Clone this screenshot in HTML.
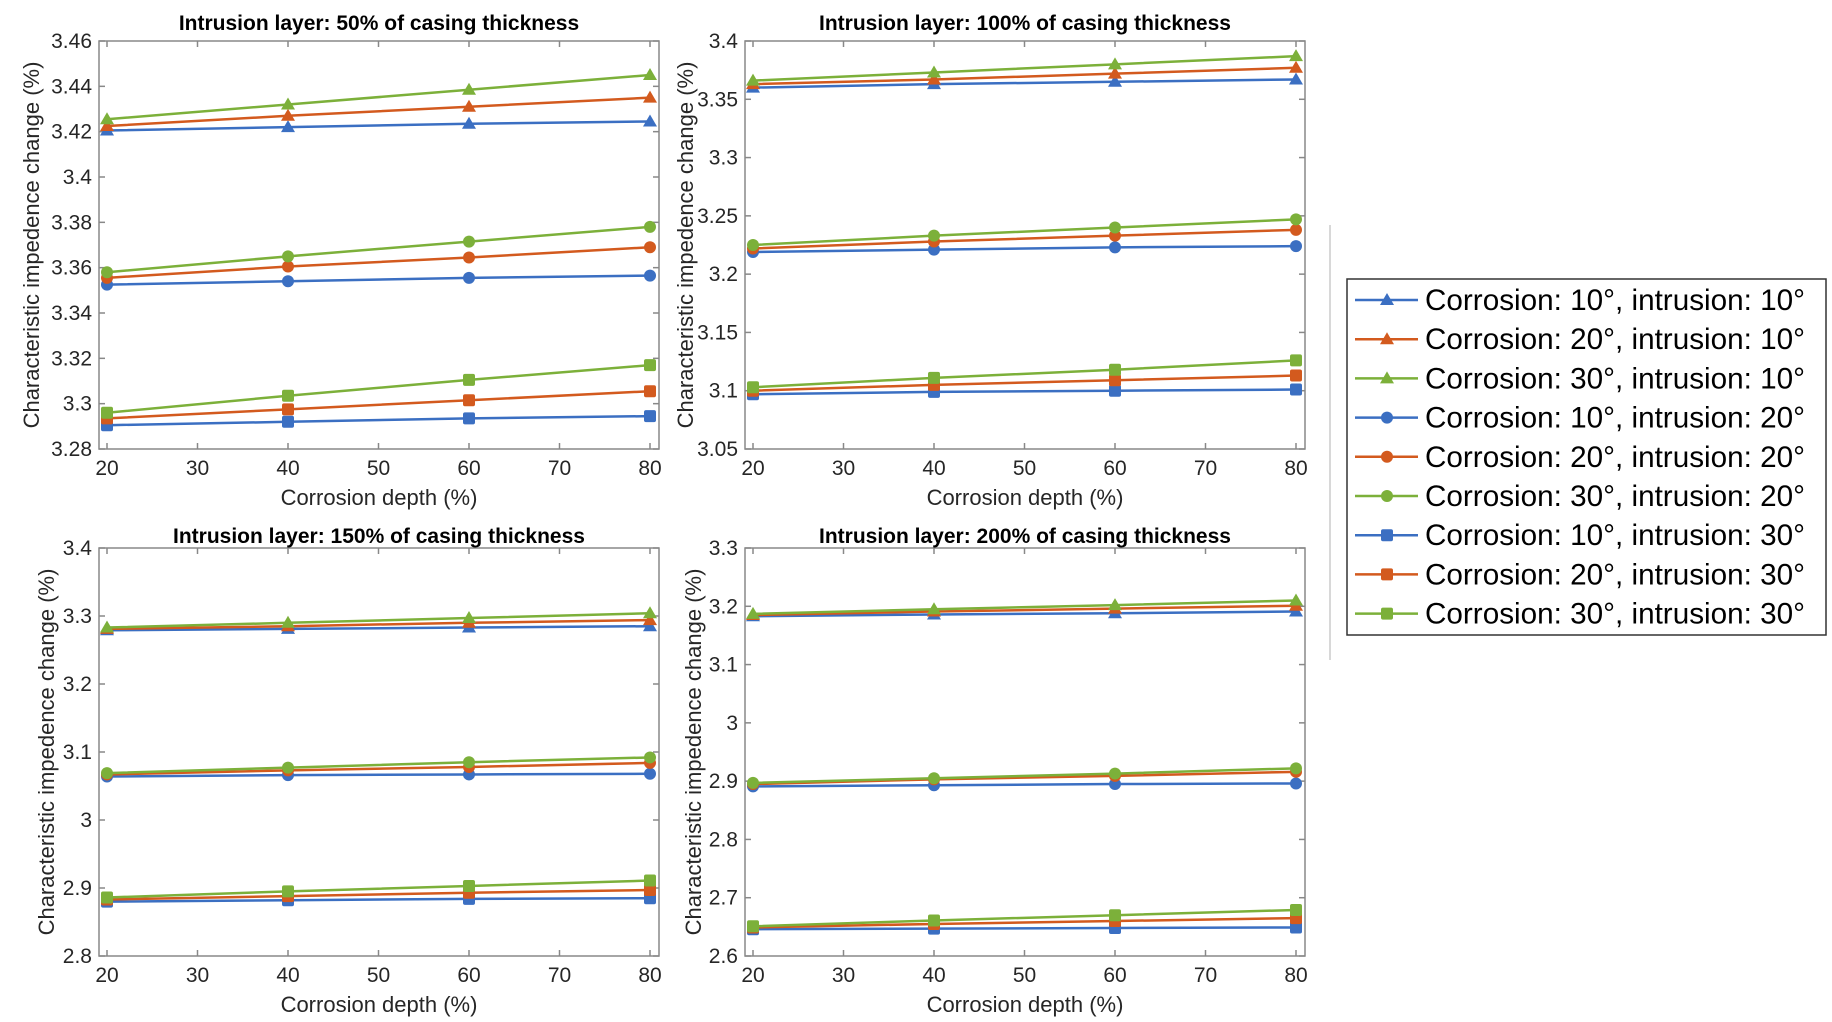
<!DOCTYPE html>
<html><head><meta charset="utf-8"><style>
body{margin:0;background:#fff;}
svg{display:block;font-family:"Liberation Sans",Arial,sans-serif;}
</style></head><body>
<svg id="fig" width="1832" height="1022" viewBox="0 0 1832 1022" xmlns="http://www.w3.org/2000/svg">
<line x1="1330" y1="225" x2="1330" y2="660" stroke="#ccc" stroke-width="1.5"/>
</svg>
<script>
const xCats=[20,40,60,80];
const xTicks=[20,30,40,50,60,70,80];
const seriesNames=["Corrosion: 10°, intrusion: 10°","Corrosion: 20°, intrusion: 10°","Corrosion: 30°, intrusion: 10°","Corrosion: 10°, intrusion: 20°","Corrosion: 20°, intrusion: 20°","Corrosion: 30°, intrusion: 20°","Corrosion: 10°, intrusion: 30°","Corrosion: 20°, intrusion: 30°","Corrosion: 30°, intrusion: 30°"];
const titles=["Intrusion layer: 50% of casing thickness","Intrusion layer: 100% of casing thickness","Intrusion layer: 150% of casing thickness","Intrusion layer: 200% of casing thickness"];
const yTicks1=["3.28","3.3","3.32","3.34","3.36","3.38","3.4","3.42","3.44","3.46"];
const yTicks2=["3.05","3.1","3.15","3.2","3.25","3.3","3.35","3.4"];
const yTicks3=["2.8","2.9","3","3.1","3.2","3.3","3.4"];
const yTicks4=["2.6","2.7","2.8","2.9","3","3.1","3.2","3.3"];
const p1=[[3.4205,3.422,3.4235,3.4245],[3.4225,3.427,3.431,3.435],[3.4255,3.432,3.4385,3.445],[3.3525,3.354,3.3555,3.3565],[3.3555,3.3605,3.3645,3.369],[3.358,3.365,3.3715,3.378],[3.2905,3.292,3.2935,3.2945],[3.2935,3.2975,3.3015,3.3055],[3.296,3.3035,3.3105,3.317]];
const p2=[[3.360,3.363,3.365,3.367],[3.363,3.367,3.372,3.377],[3.366,3.373,3.380,3.387],[3.219,3.221,3.223,3.224],[3.222,3.228,3.233,3.238],[3.225,3.233,3.240,3.247],[3.097,3.099,3.100,3.101],[3.100,3.105,3.109,3.113],[3.103,3.111,3.118,3.126]];
const p3=[[3.279,3.281,3.283,3.285],[3.281,3.285,3.290,3.294],[3.283,3.290,3.297,3.304],[3.064,3.066,3.067,3.068],[3.067,3.073,3.078,3.084],[3.069,3.077,3.085,3.092],[2.880,2.882,2.884,2.885],[2.883,2.888,2.893,2.897],[2.886,2.895,2.903,2.911]];
const p4=[[3.183,3.186,3.188,3.191],[3.185,3.191,3.196,3.201],[3.187,3.195,3.202,3.210],[2.891,2.893,2.895,2.896],[2.895,2.903,2.909,2.916],[2.897,2.905,2.913,2.922],[2.646,2.647,2.648,2.649],[2.649,2.655,2.660,2.665],[2.651,2.661,2.670,2.679]];
const colors=["#3b6fc2","#d35a1e","#7cb03a"];
const svg=document.getElementById('fig');
const NS="http://www.w3.org/2000/svg";
function mk(tag,attrs,parent){const e=document.createElementNS(NS,tag);for(const k in attrs)e.setAttribute(k,attrs[k]);(parent||svg).appendChild(e);return e;}
function marker(g,shape,x,y,c){
  let m;
  if(shape===0){m=mk('polygon',{points:`${x},${y-7} ${x-7},${y+5} ${x+7},${y+5}`,fill:c},g);}
  else if(shape===1){m=mk('circle',{cx:x,cy:y,r:6,fill:c},g);}
  else{m=mk('rect',{x:x-6,y:y-6,width:12,height:12,rx:2,fill:c},g);}
  return m;
}
const panels=[
 {L:99,T:41,R:659,B:449,ticks:yTicks1,data:p1,ylx:32,tty:22},
 {L:745,T:41,R:1305,B:449,ticks:yTicks2,data:p2,ylx:686,tty:22},
 {L:99,T:548,R:659,B:956,ticks:yTicks3,data:p3,ylx:47,tty:535},
 {L:745,T:548,R:1305,B:956,ticks:yTicks4,data:p4,ylx:694,tty:535}];
panels.forEach((P,pi)=>{
  const g=mk('g',{});
  
  
  const ymin=parseFloat(P.ticks[0]),ymax=parseFloat(P.ticks[P.ticks.length-1]);
  const x0=P.L+8,x1=P.R-9;
  const sx=v=>x0+(v-20)/60*(x1-x0);
  const sy=v=>P.B-(v-ymin)/(ymax-ymin)*(P.B-P.T);
  const box=mk('rect',{x:P.L,y:P.T,width:P.R-P.L,height:P.B-P.T,fill:'none',stroke:'#888','stroke-width':1.5},g);
  
  
  xTicks.forEach(t=>{
    const x=sx(t);
    mk('line',{x1:x,y1:P.B,x2:x,y2:P.B-6,stroke:'#888','stroke-width':1.5},g);
    mk('line',{x1:x,y1:P.T,x2:x,y2:P.T+6,stroke:'#888','stroke-width':1.5},g);
    const tx=mk('text',{x:x,y:P.B+26,'text-anchor':'middle','font-size':21,fill:'#262626'},g);
    tx.textContent=t;
    
    
  });
  P.ticks.forEach(t=>{
    const y=sy(parseFloat(t));
    mk('line',{x1:P.L,y1:y,x2:P.L+6,y2:y,stroke:'#888','stroke-width':1.5},g);
    mk('line',{x1:P.R,y1:y,x2:P.R-6,y2:y,stroke:'#888','stroke-width':1.5},g);
    const tx=mk('text',{x:P.L-7,y:y+7,'text-anchor':'end','font-size':21,fill:'#262626'},g);
    tx.textContent=t;
    
    
  });
  const tt=mk('text',{x:(P.L+P.R)/2,y:P.tty+8,'text-anchor':'middle','font-size':21,'font-weight':'bold',fill:'#000'},g);
  tt.textContent=titles[pi];
  
  
  const xl=mk('text',{x:(P.L+P.R)/2,y:P.B+56,'text-anchor':'middle','font-size':22,fill:'#262626'},g);
  xl.textContent='Corrosion depth (%)';
  
  
  const cy=(P.T+P.B)/2;
  const yl=mk('text',{x:P.ylx,y:cy,'text-anchor':'middle','font-size':22,fill:'#262626',transform:`rotate(-90 ${P.ylx} ${cy})`,dy:7},g);
  yl.textContent='Characteristic impedence change (%)';
  
  
  P.data.forEach((vals,si)=>{
    const c=colors[si%3],shape=Math.floor(si/3);
    const sg=mk('g',{},g);
    
    
    const pts=vals.map((v,i)=>sx(xCats[i])+','+sy(v)).join(' ');
    mk('polyline',{points:pts,fill:'none',stroke:c,'stroke-width':2.5},sg);
    vals.forEach((v,i)=>{
      const m=marker(sg,shape,sx(xCats[i]),sy(v),c);
      
      
    });
  });
});
// legend
const lg=mk('g',{});


mk('rect',{x:1347,y:279,width:479,height:356,fill:'#fff',stroke:'#333','stroke-width':1.5},lg);
seriesNames.forEach((n,i)=>{
  const y=279+21+i*39.2;
  const c=colors[i%3];
  const e=mk('g',{},lg);
  
  
  mk('line',{x1:1355,y1:y,x2:1418,y2:y,stroke:c,'stroke-width':2.5},e);
  marker(e,Math.floor(i/3),1387,y,c);
  const t=mk('text',{x:1425,y:y+10,'font-size':29.5,fill:'#000',textLength:380,lengthAdjust:'spacingAndGlyphs'},e);
  t.textContent=n;
});
</script>
</body></html>
